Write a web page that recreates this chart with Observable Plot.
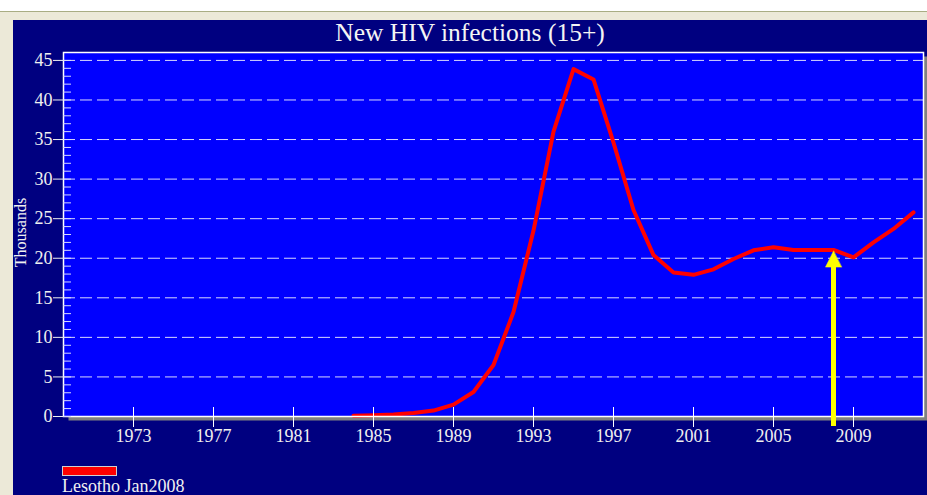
<!DOCTYPE html>
<html><head><meta charset="utf-8">
<script src="https://cdn.jsdelivr.net/npm/d3@7"></script>
<script src="https://cdn.jsdelivr.net/npm/@observablehq/plot@0.6"></script>
<style>
html,body{margin:0;padding:0;background:#fff;}
#page{position:relative;width:927px;height:495px;overflow:hidden;background:#fff;font-family:"Liberation Serif","Times New Roman",serif;}
#beige{position:absolute;left:0;top:11px;width:927px;height:484px;background:#ece9d8;border-top:1px solid #a9ad83;box-sizing:border-box;}
#navy{position:absolute;left:13px;top:20px;width:914px;height:475px;background:#000080;}
#title{position:absolute;left:13px;top:20px;width:914px;text-align:center;color:#f4f4f4;font-size:25.5px;line-height:25.5px;white-space:nowrap;}
#chart{position:absolute;left:0;top:44px;}
#legend{position:absolute;left:62px;top:466px;color:#f0f0f0;font-size:18px;white-space:nowrap;}
#swatch{width:53px;height:8px;background:#ff0000;border:1px solid #d0d0d0;}
#legendText{margin-top:3px;line-height:14px;}
</style>
</head><body>
<div id="page">
  <div id="beige"></div>
  <div id="navy"></div>
  <div id="title"></div>
  <div id="chart"></div>
  <div id="legend"><div id="swatch"></div><div id="legendText"></div></div>
</div>
<script>
// ---- data ----
const years = [1984,1985,1986,1987,1988,1989,1990,1991,1992,1993,1994,1995,1996,1997,1998,1999,2000,2001,2002,2003,2004,2005,2006,2007,2008,2009,2010,2011,2012];
const infections = [0.1,0.15,0.25,0.45,0.75,1.5,3.1,6.5,13.2,23.5,36.0,43.9,42.6,34.6,26.1,20.4,18.2,17.9,18.6,19.9,21.0,21.4,21.05,21.05,21.05,20.1,22.0,23.7,25.8];
const xTickYears = [1973,1977,1981,1985,1989,1993,1997,2001,2005,2009];
const yMajorTicks = [0,5,10,15,20,25,30,35,40,45];
const yMinorTicks = [0,1,2,3,4,5,6,7,8,9,10,11,12,13,14,15,16,17,18,19,20,21,22,23,24,25,26,27,28,29,30,31,32,33,34,35,36,37,38,39,40,41,42,43,44,45];
const gridValues = [5,10,15,20,25,30,35,40,45];
const markerYears = [2008];
const markerValues = [20.9];
const titleText = "New HIV infections (15+)";
const yLabel = "Thousands";
const seriesName = "Lesotho Jan2008";

// ---- build ----
document.getElementById("title").textContent = titleText;
document.getElementById("legendText").textContent = seriesName;

const data = years.map((year, i) => ({year, value: infections[i]}));
const marker = markerYears.map((year, i) => ({year, value: markerValues[i]}));

const arrowHead = {
  draw(ctx, l) {
    ctx.moveTo(0, -l);
    ctx.lineTo(-8, 0);
    ctx.lineTo(8, 0);
    ctx.closePath();
  }
};

const chart = Plot.plot({
  width: 927,
  height: 411,
  marginTop: 8,
  marginLeft: 63,
  marginRight: 4,
  marginBottom: 39,
  style: {background: "transparent", fontFamily: "'Liberation Serif', serif", color: "#f0f0f0", overflow: "visible"},
  x: {domain: [1969.5, 2012.5], axis: null},
  y: {domain: [0, 46], axis: null},
  marks: [
    Plot.frame({fill: "#808080", dx: 5, dy: 4}),
    Plot.frame({fill: "#0000ff"}),
    Plot.ruleY(gridValues, {stroke: "#d8d8ff", strokeDasharray: "12,5", strokeWidth: 1}),
    Plot.line(data, {x: "year", y: "value", stroke: "#ff0000", strokeWidth: 4}),
    Plot.frame({stroke: "#ffffff", strokeWidth: 1.5}),
    Plot.axisY(yMinorTicks, {tickSize: 8, dx: 8, tickFormat: () => "", label: null, stroke: "#d8d8ff"}),
    Plot.axisY(yMajorTicks, {tickSize: 10, tickPadding: 1, fontSize: 18, fill: "#f0f0f0", stroke: "#f0f0f0", label: null}),
    Plot.axisX(xTickYears, {tickSize: 20, dy: -9, tickFormat: () => "", label: null, stroke: "#ffffff"}),
    Plot.axisX(xTickYears, {tickSize: 0, tickPadding: 13, tickFormat: d => String(d), fontSize: 18, fill: "#f0f0f0", label: null}),
    Plot.text([yLabel], {frameAnchor: "left", textAnchor: "middle", rotate: -90, dx: -43, dy: -2, fontSize: 16, fill: "#f0f0f0"}),
    Plot.ruleX(marker, {x: "year", y1: 0, y2: "value", stroke: "#ffff00", strokeWidth: 5, insetBottom: -11, insetTop: 10}),
    Plot.vector(marker, {x: "year", y: "value", anchor: "end", length: 16, rotate: 0, shape: arrowHead, fill: "#ffff00", stroke: "#ffff00", strokeWidth: 0.5})
  ]
});
document.getElementById("chart").appendChild(chart);
</script>
</body></html>
